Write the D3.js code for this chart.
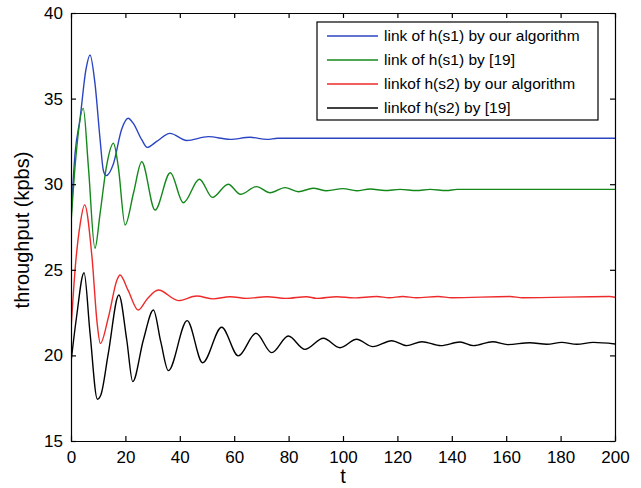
<!DOCTYPE html>
<html>
<head>
<meta charset="utf-8">
<script src="https://cdn.jsdelivr.net/npm/d3@7"></script>
<style>
  body { margin: 0; background: #fff; }
  svg { font-family: "Liberation Sans", Arial, Helvetica, sans-serif; }
</style>
</head>
<body>
<svg id="chart" width="641" height="488"></svg>
<script>
// [t, throughput] pairs
let s1Ours = [
  [0, 28.0], [1.5, 31.8], [3.3, 33.8], [5.5, 36.7], [7, 37.55], [8.8, 35.9],
  [10.7, 32.6], [11.9, 30.8], [12.9, 30.5], [15.6, 31.2], [18.6, 33.2], [21, 33.85],
  [22.9, 33.55], [26, 32.6], [28, 32.15], [31.5, 32.5], [36.4, 32.97], [42.5, 32.55],
  [50.5, 32.78], [58.5, 32.62], [65.8, 32.74], [72, 32.62], [76, 32.68], [200, 32.68]
];
let s1Ref = [
  [0, 27.7], [1.8, 31.6], [4.5, 34.43], [6.4, 31.0], [8.8, 26.26], [10.7, 28.3],
  [13, 31.0], [15.6, 32.39], [17.4, 31.0], [19.9, 27.62], [23, 29.5], [26, 31.31],
  [30.9, 28.49], [36.5, 30.67], [41.3, 28.92], [47.2, 30.29], [52, 29.23], [57.8, 30.0],
  [62.3, 29.41], [68.2, 29.86], [73.2, 29.5], [78.7, 29.8], [83.6, 29.56], [89, 29.76],
  [94, 29.62], [100, 29.74], [105, 29.62], [110, 29.72], [115.4, 29.63], [121, 29.7],
  [127, 29.63], [132, 29.7], [138, 29.63], [142, 29.7], [200, 29.7]
];
let s2Ours = [
  [0, 21.5], [1.6, 25.2], [3.4, 27.7], [5, 28.79], [7.7, 25.77], [9.6, 21.9],
  [10.8, 20.7], [13.8, 22.26], [16.9, 24.4], [18, 24.7], [21, 23.8], [24.7, 22.65],
  [28, 23.3], [32.1, 23.82], [39.5, 23.2], [46.2, 23.47], [52.3, 23.3], [58.5, 23.43],
  [64.6, 23.33], [72, 23.43], [79, 23.33], [86.6, 23.43], [90.3, 23.33], [97.7, 23.43],
  [104, 23.36], [112.4, 23.44], [117, 23.37], [122, 23.44], [127, 23.37], [135, 23.44],
  [140, 23.37], [161.4, 23.44], [166, 23.37], [198, 23.44], [200, 23.4]
];
let s2Ref = [
  [0, 19.6], [2, 22.2], [4.8, 24.83], [7, 21.3], [9.7, 17.44], [11, 17.7],
  [13.7, 20.1], [17.6, 23.53], [20.5, 20.9], [22.7, 18.47], [26.6, 20.9], [30.3, 22.65],
  [33, 20.8], [35.8, 19.11], [42.7, 22.03], [48.4, 19.57], [55.4, 21.64], [61.5, 19.97],
  [68, 21.29], [73.8, 20.16], [79.9, 21.13], [86, 20.35], [92.8, 21.0], [98.9, 20.45],
  [105, 20.94], [111, 20.51], [117.9, 20.86], [123.4, 20.57], [129, 20.8], [136, 20.57],
  [143, 20.78], [148, 20.57], [155, 20.8], [160.5, 20.63], [168.7, 20.74], [175, 20.65],
  [180.4, 20.76], [186, 20.65], [192, 20.76], [200, 20.67]
];

let seriesNames = [
  "link of h(s1) by our algorithm",
  "link of h(s1) by [19]",
  "linkof h(s2) by our algorithm",
  "linkof h(s2) by [19]"
];
let seriesColors = ["#2b45c2", "#14881a", "#ee2a2a", "#000000"];
let xTicks = [0, 20, 40, 60, 80, 100, 120, 140, 160, 180, 200];
let yTicks = [15, 20, 25, 30, 35, 40];

document.addEventListener("DOMContentLoaded", () => {
  create_line_chart();
});

function create_line_chart() {
  let svg = d3.select("#chart");

  let margin = { top: 13, right: 26, bottom: 47, left: 71 };
  let width = +svg.attr("width") - margin.left - margin.right;
  let height = +svg.attr("height") - margin.top - margin.bottom;

  let g = svg
    .append("g")
    .attr("transform", "translate(" + margin.left + "," + margin.top + ")");

  let x = d3.scaleLinear().domain([0, 200]).range([0, width]);
  let y = d3.scaleLinear().domain([15, 40]).range([height, 0]);

  let line = d3
    .line()
    .curve(d3.curveMonotoneX)
    .x((d) => x(d[0]))
    .y((d) => y(d[1]));

  let allSeries = [s1Ours, s1Ref, s2Ours, s2Ref];

  g.append("defs")
    .append("clipPath")
    .attr("id", "clip")
    .append("rect")
    .attr("width", width)
    .attr("height", height);

  // Draw the lines
  g.append("g")
    .attr("clip-path", "url(#clip)")
    .selectAll("path")
    .data(allSeries)
    .enter()
    .append("path")
    .attr("fill", "none")
    .attr("stroke", (d, i) => seriesColors[i])
    .attr("stroke-width", 1.4)
    .attr("stroke-linejoin", "round")
    .attr("d", line);

  // Axes with inward ticks on all four sides
  let bottom = g.append("g")
    .attr("transform", "translate(0," + height + ")")
    .call(d3.axisBottom(x).tickValues(xTicks).tickSizeInner(-5).tickSizeOuter(0).tickPadding(10));
  let left = g.append("g")
    .call(d3.axisLeft(y).tickValues(yTicks).tickSizeInner(-5).tickSizeOuter(0).tickPadding(8));
  let top = g.append("g")
    .call(d3.axisTop(x).tickValues(xTicks).tickSizeInner(-5).tickSizeOuter(0).tickFormat(""));
  let right = g.append("g")
    .attr("transform", "translate(" + width + ",0)")
    .call(d3.axisRight(y).tickValues(yTicks).tickSizeInner(-5).tickSizeOuter(0).tickFormat(""));

  [bottom, left, top, right].forEach(function (a) {
    a.selectAll("path, line").attr("stroke", "#000").attr("stroke-width", 1.2);
    a.selectAll("text")
      .attr("fill", "#000")
      .style("font-size", "17px")
      .style("font-family", '"Liberation Sans", Arial, sans-serif');
  });

  // Legend
  let legend = svg.append("g").attr("transform", "translate(317,22)");
  legend.append("rect")
    .attr("width", 281)
    .attr("height", 98)
    .attr("fill", "#fff")
    .attr("stroke", "#000")
    .attr("stroke-width", 1.2);

  let legendKeys = legend
    .selectAll(".legend-key")
    .data(seriesNames)
    .enter()
    .append("g")
    .attr("class", "legend-key")
    .attr("transform", (d, i) => "translate(0," + (14 + i * 24) + ")");

  legendKeys.append("line")
    .attr("x1", 10)
    .attr("x2", 61)
    .attr("stroke", (d, i) => seriesColors[i])
    .attr("stroke-width", 1.4);

  legendKeys.append("text")
    .attr("x", 67)
    .attr("dy", "0.35em")
    .style("font-size", "15.5px")
    .text((d) => d);

  // Axis labels
  svg.append("text")
    .attr("transform", "translate(" + (width / 2 + margin.left) + ",483)")
    .style("text-anchor", "middle")
    .style("font-size", "20px")
    .text("t");

  svg.append("text")
    .attr("transform", "translate(29," + (margin.top + height / 2 + 3) + ") rotate(-90)")
    .style("text-anchor", "middle")
    .style("font-size", "20px")
    .text("throughput (kpbs)");
}
</script>
</body>
</html>
